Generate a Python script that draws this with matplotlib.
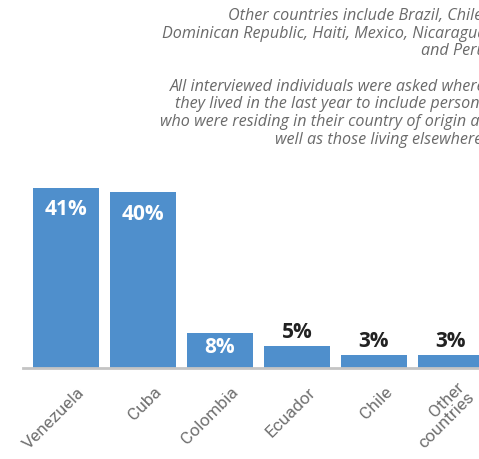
import matplotlib.pyplot as plt
import matplotlib.transforms as mtransforms

countries = ['Venezuela', 'Cuba', 'Colombia', 'Ecuador', 'Chile', 'Other\ncountries']
shares = [41, 40, 8, 5, 3, 3]
labels = ['41%', '40%', '8%', '5%', '3%', '3%']
inside = [True, True, True, False, False, False]

note = ("Other countries include Brazil, Chile,\n"
        "Dominican Republic, Haiti, Mexico, Nicaragua\n"
        "and Peru\n"
        "\n"
        "All interviewed individuals were asked where\n"
        "they lived in the last year to include persons\n"
        "who were residing in their country of origin as\n"
        "well as those living elsewhere.")

blue = '#4f8fcc'

fig = plt.figure(figsize=(4.79, 4.59), dpi=100)
ax = fig.add_axes([23 / 479, 91 / 459, 1 - 23 / 479, 198 / 459])

x = list(range(len(countries)))
ax.bar(x, shares, width=0.857, color=blue)
ax.set_xlim(-0.558, 5.364)
ax.set_ylim(0, 45)

for s in ['top', 'right', 'left']:
    ax.spines[s].set_visible(False)
ax.spines['bottom'].set_color('#c4c4c4')
ax.spines['bottom'].set_linewidth(2)
ax.set_yticks([])
ax.set_xticks([])

for i, (v, t, ins) in enumerate(zip(shares, labels, inside)):
    if ins:
        off = mtransforms.offset_copy(ax.transData, fig=fig, x=0, y=-22 if v > 20 else -15, units='dots')
        ax.text(i, v, t, transform=off, ha='center', va='center', color='white',
                fontsize=15, fontweight='bold', family='Open Sans')
    else:
        off = mtransforms.offset_copy(ax.transData, fig=fig, x=0, y=13, units='dots')
        ax.text(i, v, t, transform=off, ha='center', va='center', color='#222222',
                fontsize=15, fontweight='bold', family='Open Sans')

for i, c in enumerate(countries):
    off = mtransforms.offset_copy(ax.transData, fig=fig, x=16, y=-22, units='dots')
    ax.text(i, 0, c, transform=off, rotation=45, rotation_mode='anchor',
            ha='right', va='center', color='#707070', fontsize=12.5,
            family='Roboto', linespacing=0.95)

fig.text(486 / 479, 1 - 8 / 459, note, ha='right', va='top', color='#6a6a6a',
         fontsize=11.6, style='italic', family='Open Sans',
         linespacing=1.14)

fig.savefig('out.png', dpi=100)
